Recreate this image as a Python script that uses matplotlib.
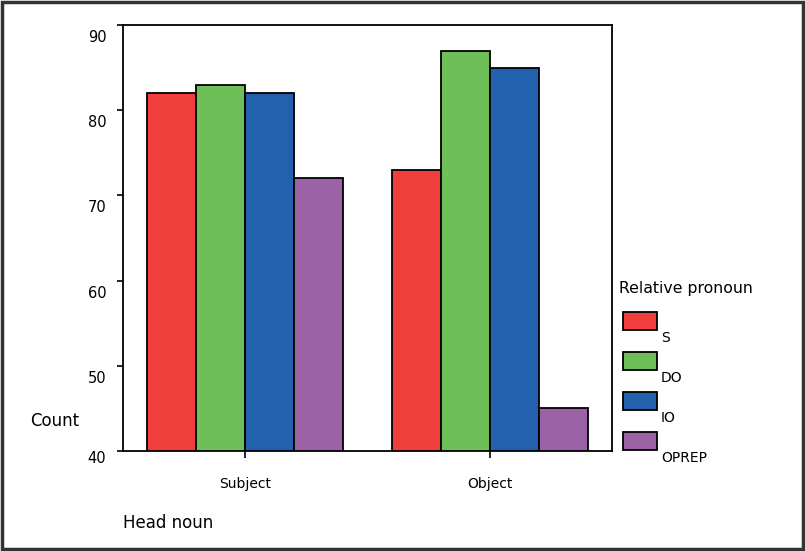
import numpy as np
import matplotlib.pyplot as plt
import matplotlib.transforms as mtransforms
from matplotlib.patches import Rectangle

plt.rcParams['font.family'] = ['DejaVu Sans']

# data
head_nouns = ['Subject', 'Object']
pronouns = ['S', 'DO', 'IO', 'OPREP']
counts = {
    'S': [82, 73],
    'DO': [83, 87],
    'IO': [82, 85],
    'OPREP': [72, 45],
}
colors = ['#EF3E3C', '#6EBF58', '#2360AE', '#9C62A6']
yticks = [40, 50, 60, 70, 80, 90]

fig = plt.figure(figsize=(8.05, 5.51), dpi=100)
ax = fig.add_axes([0.1528, 0.1815, 0.6074, 0.7731])

x = np.arange(len(head_nouns))
w = 0.2
for i, p in enumerate(pronouns):
    ax.bar(x + (i - 1.5) * w, counts[p], width=w, color=colors[i],
           edgecolor='black', linewidth=1.3, zorder=2)

ax.set_xlim(-0.5, 1.5)
ax.set_ylim(40, 90)
ax.set_yticks(yticks)
ax.set_xticks(x)
ax.set_xticklabels(head_nouns, fontsize=10)
ax.tick_params(axis='y', labelsize=10.5, length=4, width=1.2, pad=8)
ax.tick_params(axis='x', length=5, width=1.2, pad=14)
for s in ax.spines.values():
    s.set_linewidth(1.3)

# y tick labels sit a bit below their ticks in the original
for lab, v in zip(ax.get_yticklabels(), yticks):
    dy = -6 if v == 40 else -11
    off = mtransforms.ScaledTranslation(0, dy / 100, fig.dpi_scale_trans)
    lab.set_transform(lab.get_transform() + off)

fig.text(30 / 805, 1 - 421 / 551, 'Count', fontsize=12, va='center', ha='left')
fig.text(123 / 805, 1 - 523 / 551, 'Head noun', fontsize=12, va='center', ha='left')

# legend drawn by hand, labels sit below-right of each swatch
fig.text(619 / 805, 1 - 289 / 551, 'Relative pronoun', fontsize=11.3, va='center', ha='left')
for i, p in enumerate(pronouns):
    ytop = 312 + i * 40
    fig.add_artist(Rectangle((623 / 805, 1 - (ytop + 18) / 551), 34 / 805, 18 / 551,
                             transform=fig.transFigure, facecolor=colors[i],
                             edgecolor='black', linewidth=1.3))
    fig.text(661 / 805, 1 - (ytop + 26) / 551, p, fontsize=10, va='center', ha='left')

fig.add_artist(Rectangle((0.002, 0.003), 0.995, 0.993, transform=fig.transFigure,
                         fill=False, edgecolor='#333333', linewidth=2.5))

fig.savefig('out.png', dpi=100)
